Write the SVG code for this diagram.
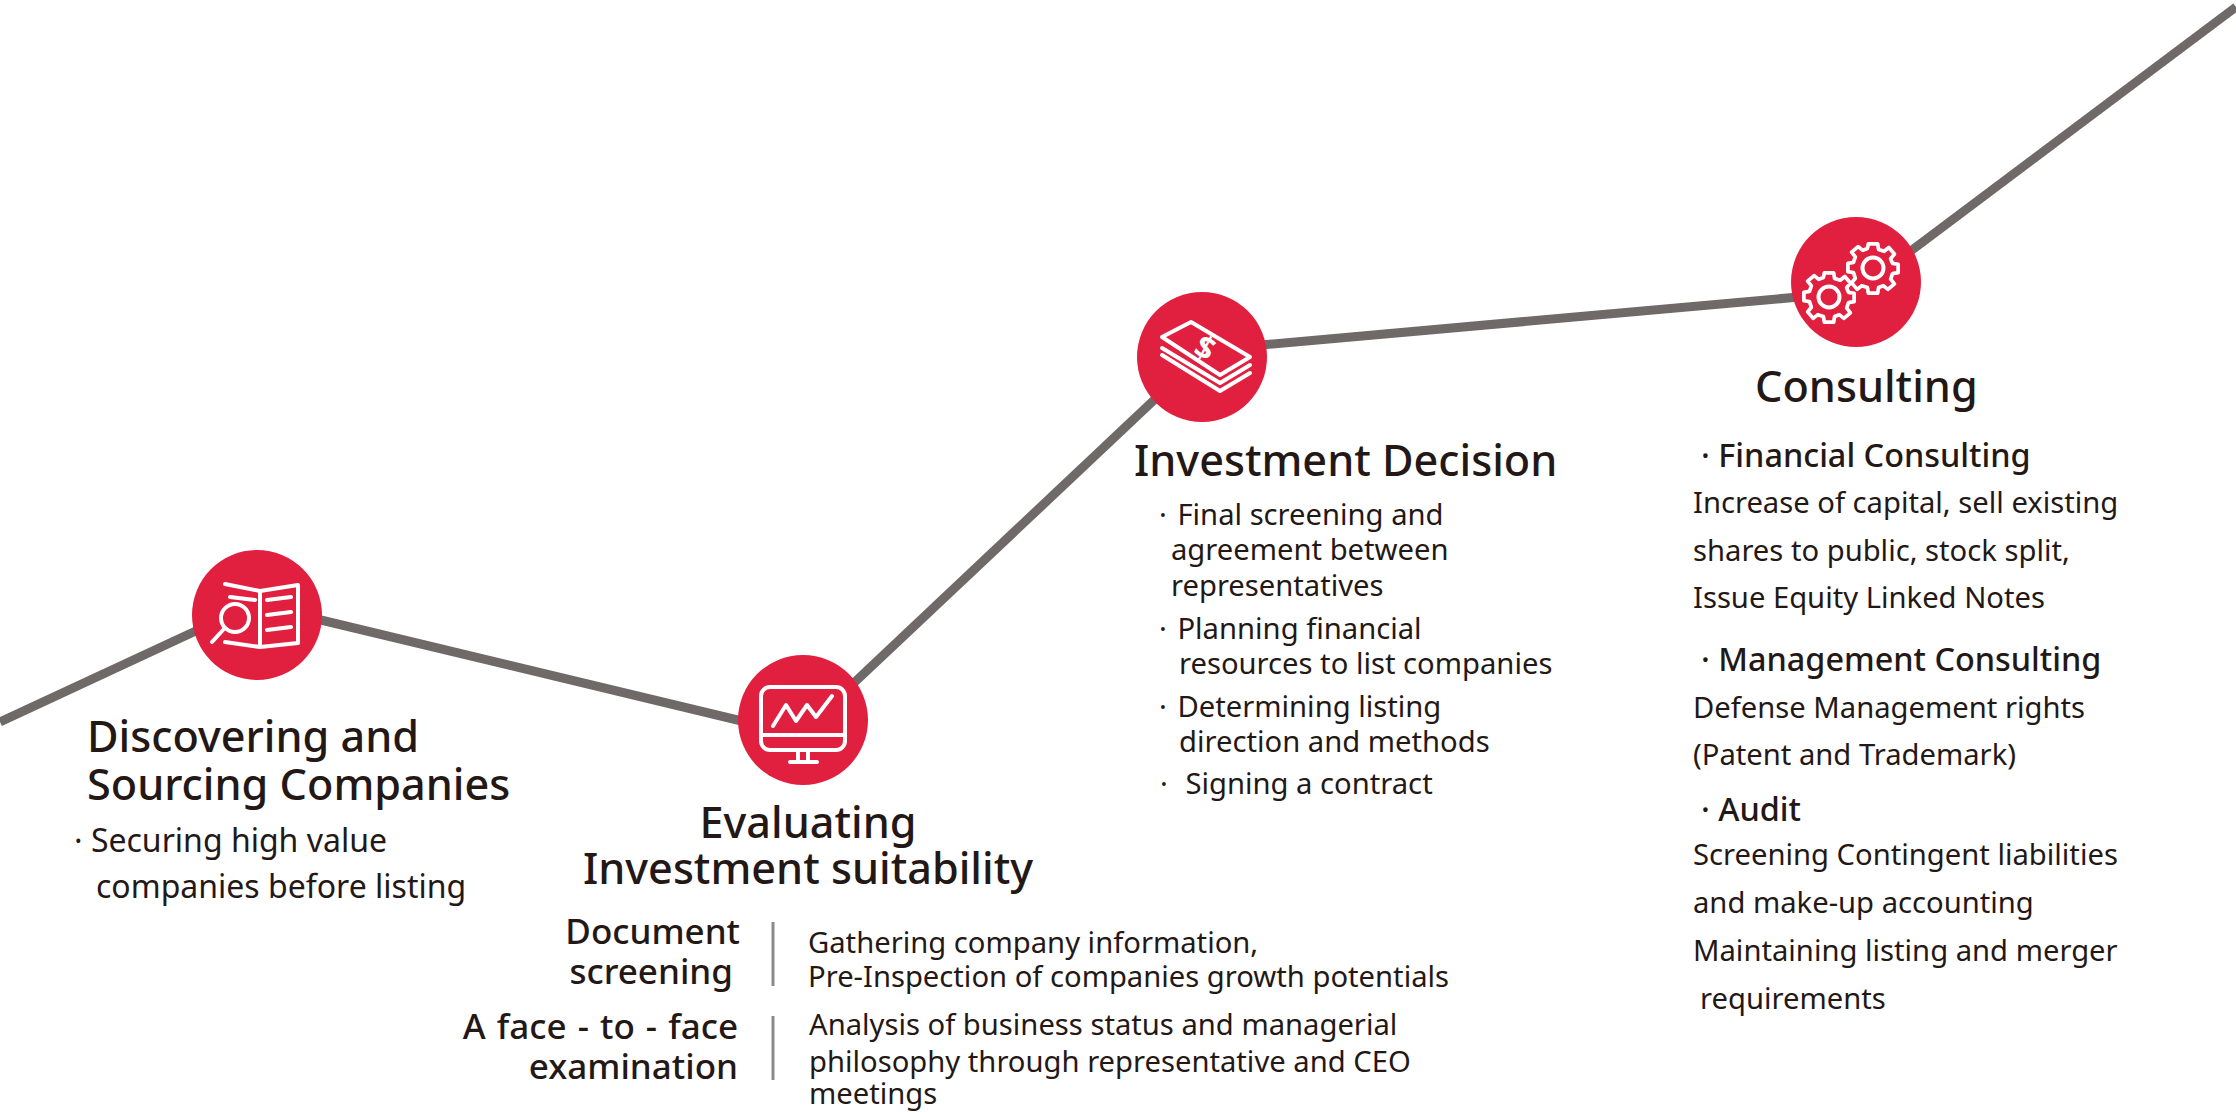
<svg xmlns="http://www.w3.org/2000/svg" width="2236" height="1112" viewBox="0 0 2236 1112">
<style>
text{font-family:"Noto Sans","Liberation Sans",sans-serif;fill:#231815}
.t{font-size:43.2px;font-weight:500}
.s{font-size:32.4px;font-weight:500}
.r{font-size:35px;font-weight:500}
.b{font-size:29.2px;font-weight:400}
.l{font-size:32px;font-weight:400}
.e{text-anchor:end}
.c{text-anchor:middle}
.node{fill:#e11f3f}
.i{fill:none;stroke:#fff;stroke-width:4;stroke-linejoin:round;stroke-linecap:round}
.div{stroke:#8a8a8a;stroke-width:3}
</style>
<defs><g id="gear"><circle r="10.5" class="i"/><path class="i" transform="scale(.93)" d="M-5 -26L5 -26L6 -20L12 -18L17 -22L23 -15L19 -10L21 -5L27 -4L27 5L21 6L19 12L23 17L16 23L11 19L6 21L5 27L-5 27L-6 21L-12 19L-17 23L-23 16L-19 11L-21 5L-27 4L-27 -5L-21 -6L-19 -12L-23 -17L-16 -23L-11 -19L-6 -21Z"/></g></defs>
<g id="connectors" fill="none" stroke="#6f6a68" stroke-width="9">
<path d="M0 722L200 629"/><path d="M300 615L750 723"/><path d="M840 696L1170 385"/><path d="M1250 346L1810 296"/><path d="M1900 259L2236 7"/></g>
<g id="node1"><circle class="node" cx="257" cy="615" r="65"/>
<path class="i" d="M225 584L260 591L298 585V643L260 647L225 642M260 591V647M230 597L255 600M267 600L291 597M267 615L291 612M267 630L291 627"/><circle cx="235" cy="618" r="14" class="i" style="fill:#e11f3f"/><path class="i" d="M223 630L212 642"/>
<text class="t" x="87" y="752">Discovering and</text><text class="t" x="87" y="800">Sourcing Companies</text>
<text class="l" x="74" y="852">· Securing high value</text><text class="l" x="96" y="898">companies before listing</text></g>
<g id="node2"><circle class="node" cx="803" cy="720" r="65"/>
<rect class="i" x="761" y="687" width="84" height="63" rx="9"/>
<path class="i" d="M761 735H845M798 750V762M808 750V762M790 762H817M773 726L786 705L796 721L807 705L816 717L832 696"/>
<text class="t c" x="808" y="838">Evaluating</text><text class="t c" x="808" y="884">Investment suitability</text>
<g id="doc"><text class="r e" x="740" y="944">Document</text><text class="r e" x="733" y="984">screening</text><path class="div" d="M773 922V986"/>
<text class="b" x="808" y="953">Gathering company information,</text><text class="b" x="808" y="987">Pre-Inspection of companies growth potentials</text></g>
<g id="face"><text class="r e" x="738" y="1039" style="word-spacing:2px">A face - to - face</text><text class="r e" x="738" y="1079">examination</text><path class="div" d="M773 1016V1080"/>
<text class="b" x="809" y="1035">Analysis of business status and managerial</text><text class="b" x="809" y="1072">philosophy through representative and CEO</text><text class="b" x="809" y="1104">meetings</text></g></g>
<g id="node3"><circle class="node" cx="1202" cy="357" r="65"/>
<path class="i" d="M1162 337L1191 322L1250 357L1220 375ZM1162 348L1220 383L1250 365M1162 355L1220 391L1250 373"/>
<text x="1205" y="359" class="c" style="font-size:32px;font-weight:700;fill:#fff" transform="rotate(28 1205 348)">$</text>
<text class="t" x="1134" y="476">Investment Decision</text>
<text class="b" x="1159" y="525">· <tspan dx="3">Final screening and</tspan></text><text class="b" x="1171" y="560">agreement between</text><text class="b" x="1171" y="596">representatives</text>
<text class="b" x="1159" y="639">· <tspan dx="3">Planning financial</tspan></text><text class="b" x="1179" y="674">resources to list companies</text>
<text class="b" x="1159" y="717">· <tspan dx="3">Determining listing</tspan></text><text class="b" x="1179" y="752">direction and methods</text>
<text class="b" x="1160" y="794">· <tspan dx="10">Signing a contract</tspan></text></g>
<g id="node4"><circle class="node" cx="1856" cy="282" r="65"/>
<use href="#gear" transform="translate(1829,297)"/><use href="#gear" transform="translate(1873,268)"/>
<text class="t" x="1755" y="402">Consulting</text>
<text class="s" x="1701" y="467">· Financial Consulting</text>
<text class="b" x="1693" y="513">Increase of capital, sell existing</text><text class="b" x="1693" y="561">shares to public, stock split,</text><text class="b" x="1693" y="608">Issue Equity Linked Notes</text>
<text class="s" x="1701" y="671">· Management Consulting</text>
<text class="b" x="1693" y="718">Defense Management rights</text><text class="b" x="1693" y="765">(Patent and Trademark)</text>
<text class="s" x="1701" y="821">· Audit</text>
<text class="b" x="1693" y="865">Screening Contingent liabilities</text><text class="b" x="1693" y="913">and make-up accounting</text><text class="b" x="1693" y="961">Maintaining listing and merger</text><text class="b" x="1700" y="1009">requirements</text></g>
</svg>
